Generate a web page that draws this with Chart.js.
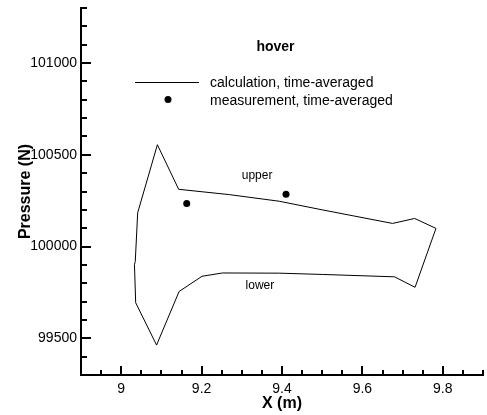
<!DOCTYPE html>
<html>
<head>
<meta charset="utf-8">
<script src="https://cdn.jsdelivr.net/npm/chart.js@4.4.1/dist/chart.umd.min.js"></script>
<style>
  html, body { margin: 0; padding: 0; background: #fff; }
  #wrap { width: 487px; height: 415px; }
</style>
</head>
<body>
<div id="wrap"><canvas id="chart"></canvas></div>
<script>
// calculated pressure outline, walked round as one closed loop (upper surface, then lower)
const calcX = [9.090, 9.143, 9.269, 9.393, 9.500, 9.675, 9.730, 9.783, 9.731, 9.680,
  9.500, 9.393, 9.252, 9.201, 9.144, 9.088, 9.036, 9.033, 9.035, 9.041, 9.090]
const calcY = [100555, 100312, 100283, 100247, 100200, 100126, 100153, 100099, 99778, 99835,
  99848, 99855, 99856, 99838, 99755, 99463, 99694, 99901, 99919, 100184, 100555]

// measured points
const measX = [9.163, 9.410]
const measY = [100235, 100285]

const xTicks = [9, 9.2, 9.4, 9.6, 9.8]
const yTicks = [99500, 100000, 100500, 101000]

const FONT = "'Liberation Sans', Arial, Helvetica, sans-serif"

// ticks point inward, like the original plot
const innerTicks = {
  id: 'innerTicks',
  afterDraw(chart) {
    const { ctx, chartArea: a, scales: { x, y } } = chart
    ctx.save()
    ctx.strokeStyle = '#000'
    ctx.lineWidth = 2
    ctx.beginPath()
    for (let v = 8.9; v <= 9.9001; v += 0.05) {
      const px = Math.round(x.getPixelForValue(v))
      const major = xTicks.some(t => Math.abs(t - v) < 1e-6)
      ctx.moveTo(px, a.bottom)
      ctx.lineTo(px, a.bottom - (major ? 9 : 5))
    }
    for (let v = 99300; v <= 101300; v += 100) {
      const py = Math.round(y.getPixelForValue(v))
      const major = yTicks.includes(v)
      ctx.moveTo(a.left, py)
      ctx.lineTo(a.left + (major ? 10 : 6), py)
    }
    ctx.stroke()
    ctx.restore()
  }
}

// title, legend and the upper / lower notes
const notes = {
  id: 'notes',
  afterDraw(chart) {
    const { ctx, scales: { x, y } } = chart
    ctx.save()
    ctx.fillStyle = '#000'
    ctx.strokeStyle = '#000'
    ctx.textBaseline = 'middle'

    ctx.font = 'bold 14px ' + FONT
    ctx.textAlign = 'center'
    ctx.fillText('hover', 275.5, 47)

    ctx.lineWidth = 1
    ctx.beginPath()
    ctx.moveTo(135, 82.5)
    ctx.lineTo(199, 82.5)
    ctx.stroke()
    ctx.beginPath()
    ctx.arc(168, 99.5, 3.5, 0, Math.PI * 2)
    ctx.fill()

    ctx.font = '14px ' + FONT
    ctx.textAlign = 'left'
    ctx.fillText('calculation, time-averaged', 210, 83)
    ctx.fillText('measurement, time-averaged', 210, 101)

    ctx.font = '12px ' + FONT
    ctx.textAlign = 'center'
    ctx.fillText('upper', x.getPixelForValue(9.338), y.getPixelForValue(100388))
    ctx.fillText('lower', x.getPixelForValue(9.345), y.getPixelForValue(99788))
    ctx.restore()
  }
}

new Chart(document.getElementById('chart'), {
  type: 'scatter',
  data: {
    datasets: [
      {
        label: 'calculation, time-averaged',
        data: calcX.map((v, i) => ({ x: v, y: calcY[i] })),
        showLine: true,
        borderColor: '#000',
        borderWidth: 1,
        pointRadius: 0,
        tension: 0,
        fill: false,
      },
      {
        label: 'measurement, time-averaged',
        data: measX.map((v, i) => ({ x: v, y: measY[i] })),
        backgroundColor: '#000',
        borderColor: '#000',
        pointRadius: 3.5,
        borderWidth: 0,
      },
    ],
  },
  options: {
    responsive: true,
    maintainAspectRatio: false,
    animation: false,
    layout: { padding: { top: 8, right: 2, left: 0, bottom: 0 } },
    plugins: {
      legend: { display: false },
      tooltip: { enabled: false },
    },
    scales: {
      x: {
        type: 'linear',
        min: 8.9,
        max: 9.9,
        afterBuildTicks: s => { s.ticks = xTicks.map(v => ({ value: v })) },
        afterFit: s => { s.height = 40; s.paddingLeft = 0; s.paddingRight = 0 },
        grid: { display: false, drawTicks: false },
        border: { display: true, color: '#000', width: 2 },
        ticks: {
          padding: 6,
          color: '#000',
          font: { size: 14, family: FONT },
          callback: v => String(v),
        },
        title: {
          display: true,
          text: 'X (m)',
          color: '#000',
          padding: { top: 0, bottom: 2 },
          font: { size: 16, weight: 'bold', family: FONT },
        },
      },
      y: {
        type: 'linear',
        min: 99300,
        max: 101300,
        afterBuildTicks: s => { s.ticks = yTicks.map(v => ({ value: v })) },
        afterFit: s => { s.width = 81; s.paddingTop = 0; s.paddingBottom = 0 },
        grid: { display: false, drawTicks: false },
        border: { display: true, color: '#000', width: 2 },
        ticks: {
          padding: 4,
          color: '#000',
          font: { size: 14, family: FONT },
          callback: v => String(v),
        },
        title: {
          display: true,
          text: 'Pressure (N)',
          color: '#000',
          padding: { top: 16, bottom: 0 },
          font: { size: 16, weight: 'bold', family: FONT },
        },
      },
    },
  },
  plugins: [innerTicks, notes],
})
</script>
</body>
</html>
